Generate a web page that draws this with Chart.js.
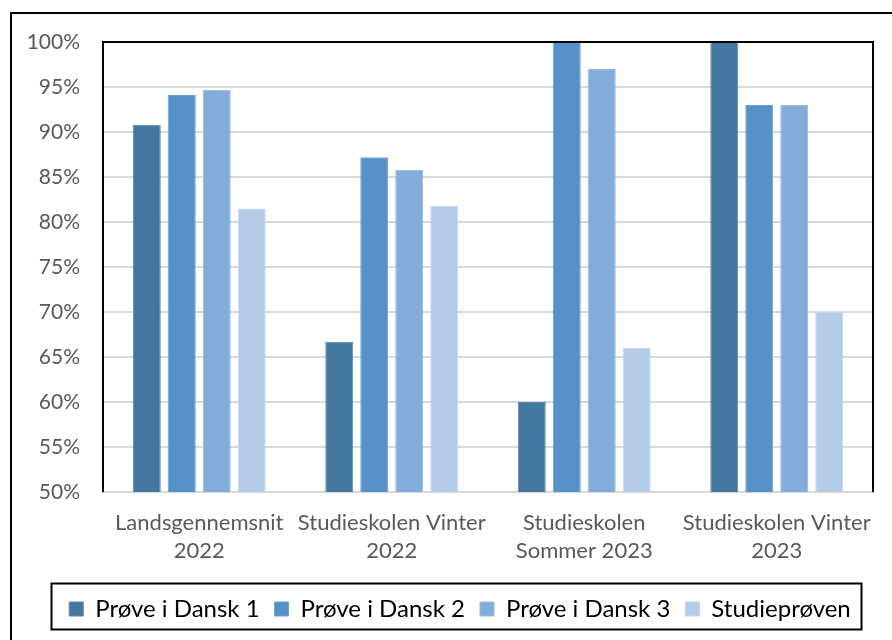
<!DOCTYPE html>
<html>
<head>
<meta charset="utf-8">
<script src="https://cdn.jsdelivr.net/npm/chart.js@4"></script>
<style>
  body { margin: 0; background: #fff; }
  #wrap { width: 892px; height: 640px; }
</style>
</head>
<body>
<div id="wrap"><canvas id="chart" width="892" height="640"></canvas></div>
<script>
const categories = [
  ['Landsgennemsnit', '2022'],
  ['Studieskolen Vinter', '2022'],
  ['Studieskolen', 'Sommer 2023'],
  ['Studieskolen Vinter', '2023'],
];
const seriesNames = ['Prøve i Dansk 1', 'Prøve i Dansk 2', 'Prøve i Dansk 3', 'Studieprøven'];
const dansk1 = [90.8, 66.7, 60, 100];
const dansk2 = [94.1, 87.2, 100, 93];
const dansk3 = [94.7, 85.8, 97, 93];
const studieproven = [81.5, 81.8, 66, 70];
const colors = ['#44779f', '#5591c6', '#83acdb', '#b5cce8'];
const borderColors = ['#5a87b0', '#6a9fd0', '#95b9e2', '#c3d6ee'];

const FONT = 'Lato, "Open Sans", sans-serif';

// frame round the whole picture + border round plot and legend
const framePlugin = {
  id: 'frames',
  afterLayout(chart) {
    // legend in the original sits a bit right of the canvas centre
    chart.legend.left = 47;
  },
  afterDraw(chart) {
    const ctx = chart.ctx;
    const a = chart.chartArea;
    ctx.save();
    ctx.strokeStyle = '#000';
    ctx.lineWidth = 2;
    // outer frame (left and top only visible)
    ctx.beginPath();
    ctx.moveTo(11, 640);
    ctx.lineTo(11, 13);
    ctx.lineTo(892, 13);
    ctx.stroke();
    // plot area border: left, top, right
    ctx.beginPath();
    ctx.moveTo(Math.round(a.left), Math.round(a.bottom));
    ctx.lineTo(Math.round(a.left), Math.round(a.top));
    ctx.lineTo(Math.round(a.right), Math.round(a.top));
    ctx.lineTo(Math.round(a.right), Math.round(a.bottom));
    ctx.stroke();
    // legend box
    const boxes = chart.legend.legendHitBoxes;
    if (boxes && boxes.length) {
      const l = Math.min(...boxes.map(b => b.left)) - 18;
      const r = Math.max(...boxes.map(b => b.left + b.width)) + 10;
      const t = boxes[0].top - 14;
      const btm = boxes[0].top + boxes[0].height + 8;
      ctx.strokeRect(Math.round(l) + 0.5, Math.round(t) + 0.5, Math.round(r - l), Math.round(btm - t));
    }
    ctx.restore();
  }
};

const datasets = [dansk1, dansk2, dansk3, studieproven].map((d, i) => ({
  label: seriesNames[i],
  data: d,
  backgroundColor: colors[i],
  borderColor: borderColors[i],
  borderWidth: 1,
  categoryPercentage: 0.727,
  barPercentage: 0.8,
}));

new Chart(document.getElementById('chart'), {
  type: 'bar',
  data: { labels: categories, datasets: datasets },
  plugins: [framePlugin],
  options: {
    responsive: false,
    animation: false,
    layout: { padding: { top: 42, left: 0, right: 19, bottom: 9 } },
    plugins: {
      tooltip: { enabled: false },
      legend: {
        position: 'bottom',
        labels: {
          boxWidth: 14,
          boxHeight: 14,
          padding: 15,
          color: '#000',
          font: { family: FONT, size: 24 },
        },
      },
    },
    scales: {
      x: {
        grid: { display: false, drawTicks: false },
        border: { color: '#d9d9d9', width: 2 },
        ticks: {
          color: '#595959',
          font: { family: FONT, size: 22, lineHeight: 1.27 },
          maxRotation: 0,
          autoSkip: false,
          padding: 17,
        },
        afterFit: s => { s.height = 90; },
      },
      y: {
        min: 50,
        max: 100,
        border: { display: false },
        grid: { color: '#d9d9d9', lineWidth: 2, drawTicks: false },
        ticks: {
          stepSize: 5,
          color: '#595959',
          font: { family: FONT, size: 21 },
          padding: 23,
          callback: v => v + '%',
        },
        afterFit: s => { s.width = 103; },
      },
    },
  },
});
</script>
</body>
</html>
